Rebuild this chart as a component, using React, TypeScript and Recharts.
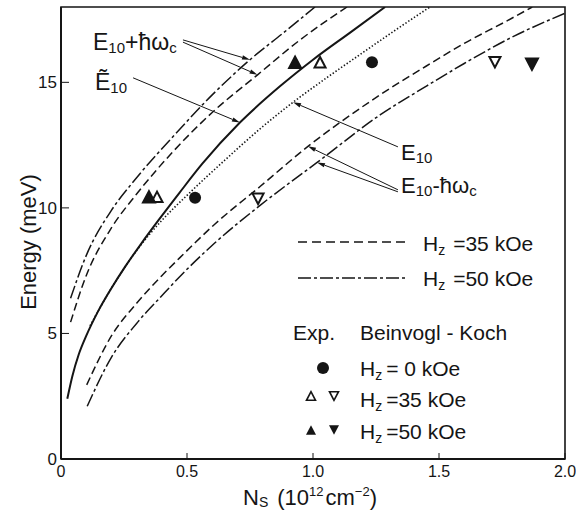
import React from "react";
import {
  ComposedChart,
  Line,
  Scatter,
  XAxis,
  YAxis,
  ReferenceArea,
  ReferenceLine,
} from "recharts";

type Pt = [number, number];

// [Ns (10^12 cm^-2), energy (meV)]
const e10TildeCurve: Pt[] = [
  [0.025, 2.4], [0.045, 3.3], [0.07, 4.15], [0.1, 4.9], [0.148, 5.9], [0.2, 6.8],
  [0.254, 7.65], [0.32, 8.6], [0.39, 9.55], [0.47, 10.6], [0.56, 11.75], [0.71, 13.4],
  [0.87, 14.85], [1.0, 15.9], [1.15, 17.0], [1.286, 18.0],
];
const e10Curve: Pt[] = [
  [0.115, 5.3], [0.2, 6.8], [0.3, 8.3], [0.4, 9.5], [0.5, 10.5], [0.65, 11.9], [0.79, 13.15],
  [0.92, 14.2], [1.05, 15.15], [1.2, 16.2], [1.33, 17.1], [1.464, 18.0],
];
const plusHw35: Pt[] = [
  [0.038, 5.45], [0.1, 7.3], [0.2, 9.2], [0.3, 10.55], [0.45, 12.3], [0.6, 13.8],
  [0.78, 15.3], [0.95, 16.7], [1.135, 18.0],
];
const plusHw50: Pt[] = [
  [0.038, 6.4], [0.1, 8.1], [0.2, 9.9], [0.3, 11.2], [0.45, 12.9], [0.6, 14.5],
  [0.75, 15.9], [0.88, 16.95], [1.008, 18.0],
];
const minusHw35: Pt[] = [
  [0.102, 2.95], [0.2, 4.9], [0.3, 6.2], [0.4, 7.3], [0.47, 8.0], [0.61, 9.35], [0.79, 10.85],
  [0.98, 12.45], [1.107, 13.4], [1.266, 14.5], [1.45, 15.65], [1.6, 16.55], [1.77, 17.45], [1.87, 18.0],
];
const minusHw50: Pt[] = [
  [0.104, 2.1], [0.2, 4.05], [0.3, 5.4], [0.4, 6.5], [0.47, 7.25], [0.61, 8.6], [0.79, 10.1],
  [1.015, 11.8], [1.266, 13.7], [1.45, 14.85], [1.6, 15.75], [1.8, 16.85], [2.0, 17.75],
];

// measured points (Beinvogl - Koch)
const zeroFieldPts: Pt[] = [[0.532, 10.4], [1.234, 15.8]];
const up35Pts: Pt[] = [[0.381, 10.44], [1.028, 15.8]];
const down35Pts: Pt[] = [[0.782, 10.36], [1.722, 15.8]];
const up50Pts: Pt[] = [[0.349, 10.44], [0.929, 15.8]];
const down50Pts: Pt[] = [[1.869, 15.72]];

const xTicks = [0, 0.5, 1.0, 1.5, 2.0];
const yTicks = [0, 5, 10, 15];

const FONT = "'Liberation Sans', Arial, sans-serif";
const INK = "#151515";
const DASH35 = "8 4";
const DASH50 = "13 3 3 3";

const rows = (pts: Pt[]) => pts.map(([n, e]) => ({ n, e }));

// linear lookup on a curve, used to put arrow tips on the lines
const onCurve = (curve: Pt[], n: number) => {
  for (let i = 1; i < curve.length; i++) {
    const [n0, e0] = curve[i - 1];
    const [n1, e1] = curve[i];
    if (n >= n0 && n <= n1) return e0 + ((n - n0) / (n1 - n0)) * (e1 - e0);
  }
  return curve[curve.length - 1][1];
};

// label-side point -> tip on a curve
const arrows: { from: Pt; curve: Pt[]; n: number }[] = [
  { from: [0.484, 16.69], curve: plusHw50, n: 0.75 },
  { from: [0.484, 16.6], curve: plusHw35, n: 0.78 },
  { from: [0.286, 15.18], curve: e10TildeCurve, n: 0.71 },
  { from: [1.337, 12.43], curve: e10Curve, n: 0.921 },
  { from: [1.337, 10.72], curve: minusHw35, n: 0.98 },
  { from: [1.337, 10.64], curve: minusHw50, n: 1.016 },
];

const ArrowShape = (p: any) => {
  const { x1, y1, x2, y2 } = p;
  const a = Math.atan2(y2 - y1, x2 - x1);
  const len = 8;
  const w = 2.2;
  const bx = x2 - len * Math.cos(a);
  const by = y2 - len * Math.sin(a);
  const pts = `${x2},${y2} ${bx + w * Math.sin(a)},${by - w * Math.cos(a)} ${bx - w * Math.sin(a)},${by + w * Math.cos(a)}`;
  return (
    <g>
      <line x1={x1} y1={y1} x2={bx} y2={by} stroke={INK} strokeWidth={1} />
      <polygon points={pts} fill={INK} />
    </g>
  );
};

const triangle = (cx: number, cy: number, s: number, up: boolean) => {
  const h = s * 0.95;
  return up
    ? `${cx},${cy - h / 2} ${cx - s / 2},${cy + h / 2} ${cx + s / 2},${cy + h / 2}`
    : `${cx},${cy + h / 2} ${cx - s / 2},${cy - h / 2} ${cx + s / 2},${cy - h / 2}`;
};

const marker = (kind: "dot" | "up" | "down", filled: boolean, size = 12) => (props: any) => {
  const { cx, cy } = props;
  if (cx == null || cy == null) return <g />;
  if (kind === "dot") return <circle cx={cx} cy={cy} r={size / 2} fill={INK} />;
  return (
    <polygon
      points={triangle(cx, cy, size, kind === "up")}
      fill={filled ? INK : "#fff"}
      stroke={INK}
      strokeWidth={2}
      strokeLinejoin="miter"
    />
  );
};

const curves = [
  { pts: plusHw50, dash: DASH50, w: 1.5 },
  { pts: plusHw35, dash: DASH35, w: 1.5 },
  { pts: e10TildeCurve, dash: undefined, w: 2 },
  { pts: e10Curve, dash: "1.4 2", w: 1.6 },
  { pts: minusHw35, dash: DASH35, w: 1.5 },
  { pts: minusHw50, dash: DASH50, w: 1.5 },
];

const Overlay = () => (
  <svg
    width={576}
    height={514}
    style={{ position: "absolute", left: 0, top: 0, pointerEvents: "none" }}
    fontFamily={FONT}
    fill={INK}
  >
    {/* axis titles */}
    <text x={36} y={242} fontSize={22} textAnchor="middle" transform="rotate(-90 36 242)">
      Energy  (meV)
    </text>
    <text x={243} y={505} fontSize={22}>
      N<tspan fontSize={14} dy={2}>S</tspan>
      <tspan dy={-2} dx={9}>(10</tspan>
      <tspan fontSize={13} dy={-9}>12</tspan>
      <tspan dy={9} dx={2}>cm</tspan>
      <tspan fontSize={13} dy={-9}>−2</tspan>
      <tspan dy={9}>)</tspan>
    </text>

    {/* curve labels */}
    <text x={93} y={50} fontSize={23}>
      E<tspan fontSize={15} dy={3}>10</tspan>
      <tspan dy={-3}>+ħω</tspan>
      <tspan fontSize={15} dy={3}>c</tspan>
    </text>
    <text x={95} y={90} fontSize={23}>
      Ẽ<tspan fontSize={15} dy={3}>10</tspan>
    </text>
    <text x={401} y={160} fontSize={22}>
      E<tspan fontSize={15} dy={3}>10</tspan>
    </text>
    <text x={401} y={193} fontSize={22}>
      E<tspan fontSize={15} dy={3}>10</tspan>
      <tspan dy={-3}>-ħω</tspan>
      <tspan fontSize={15} dy={3}>c</tspan>
    </text>

    {/* line styles */}
    <line x1={298} y1={242} x2={406} y2={242} stroke={INK} strokeWidth={1.4} strokeDasharray="9 5" />
    <text x={423} y={251} fontSize={21}>
      H<tspan fontSize={14} dy={4}>z</tspan>
      <tspan dy={-4} dx={8}>=35  kOe</tspan>
    </text>
    <line x1={298} y1={278} x2={406} y2={278} stroke={INK} strokeWidth={1.4} strokeDasharray={DASH50} />
    <text x={423} y={286} fontSize={21}>
      H<tspan fontSize={14} dy={4}>z</tspan>
      <tspan dy={-4} dx={8}>=50  kOe</tspan>
    </text>

    {/* experimental symbols */}
    <text x={293} y={340} fontSize={21}>Exp.</text>
    <text x={360} y={340} fontSize={21}>Beinvogl - Koch</text>
    <circle cx={323} cy={368} r={6} fill={INK} />
    <text x={360} y={376} fontSize={21}>
      H<tspan fontSize={14} dy={4}>z</tspan>
      <tspan dy={-4} dx={4}>=   0 kOe</tspan>
    </text>
    <polygon points={triangle(311, 396, 9, true)} fill="#fff" stroke={INK} strokeWidth={1.6} />
    <polygon points={triangle(334, 396, 9, false)} fill="#fff" stroke={INK} strokeWidth={1.6} />
    <text x={360} y={407} fontSize={21}>
      H<tspan fontSize={14} dy={4}>z</tspan>
      <tspan dy={-4} dx={4}>=35 kOe</tspan>
    </text>
    <polygon points={triangle(311, 430, 10, true)} fill={INK} />
    <polygon points={triangle(334, 430, 10, false)} fill={INK} />
    <text x={360} y={439} fontSize={21}>
      H<tspan fontSize={14} dy={4}>z</tspan>
      <tspan dy={-4} dx={4}>=50 kOe</tspan>
    </text>
  </svg>
);

const App: React.FC = () => (
  <div style={{ position: "absolute", left: 0, top: 0, width: 576, height: 514, background: "#fff" }}>
    <ComposedChart
      width={576}
      height={514}
      margin={{ top: 7, right: 11, bottom: 25, left: 31 }}
    >
      <XAxis
        type="number"
        dataKey="n"
        domain={[0, 2]}
        ticks={xTicks}
        tickFormatter={(v: number) => (v === 0 ? "0" : v.toFixed(1))}
        allowDataOverflow
        height={30}
        axisLine={{ stroke: INK, strokeWidth: 2 }}
        tickLine={{ stroke: INK, strokeWidth: 1 }}
        tickSize={-6}
        tickMargin={13}
        tick={{ fill: INK, fontSize: 16, fontFamily: FONT }}
      />
      <YAxis
        type="number"
        domain={[0, 18]}
        ticks={yTicks}
        allowDataOverflow
        width={30}
        axisLine={{ stroke: INK, strokeWidth: 2 }}
        tickLine={{ stroke: INK, strokeWidth: 1 }}
        tickSize={-8}
        tickMargin={12}
        tick={{ fill: INK, fontSize: 17, fontFamily: FONT }}
      />
      <ReferenceArea x1={0} x2={2} y1={0} y2={18} fill="none" stroke={INK} strokeWidth={1.6} />

      {curves.map((c, i) => (
        <Line
          key={i}
          data={rows(c.pts)}
          dataKey="e"
          type="monotone"
          stroke={INK}
          strokeWidth={c.w}
          strokeDasharray={c.dash}
          dot={false}
          activeDot={false}
          isAnimationActive={false}
        />
      ))}

      {arrows.map((a, i) => (
        <ReferenceLine
          key={`arrow-${i}`}
          segment={[
            { x: a.from[0], y: a.from[1] },
            { x: a.n, y: onCurve(a.curve, a.n) },
          ]}
          ifOverflow="visible"
          shape={ArrowShape}
        />
      ))}

      <Scatter data={rows(zeroFieldPts)} dataKey="e" shape={marker("dot", true, 12)} isAnimationActive={false} />
      <Scatter data={rows(up35Pts)} dataKey="e" shape={marker("up", false, 11)} isAnimationActive={false} />
      <Scatter data={rows(down35Pts)} dataKey="e" shape={marker("down", false, 11)} isAnimationActive={false} />
      <Scatter data={rows(up50Pts)} dataKey="e" shape={marker("up", true, 12)} isAnimationActive={false} />
      <Scatter data={rows(down50Pts)} dataKey="e" shape={marker("down", true, 12)} isAnimationActive={false} />
    </ComposedChart>
    <Overlay />
  </div>
);

export default App;
